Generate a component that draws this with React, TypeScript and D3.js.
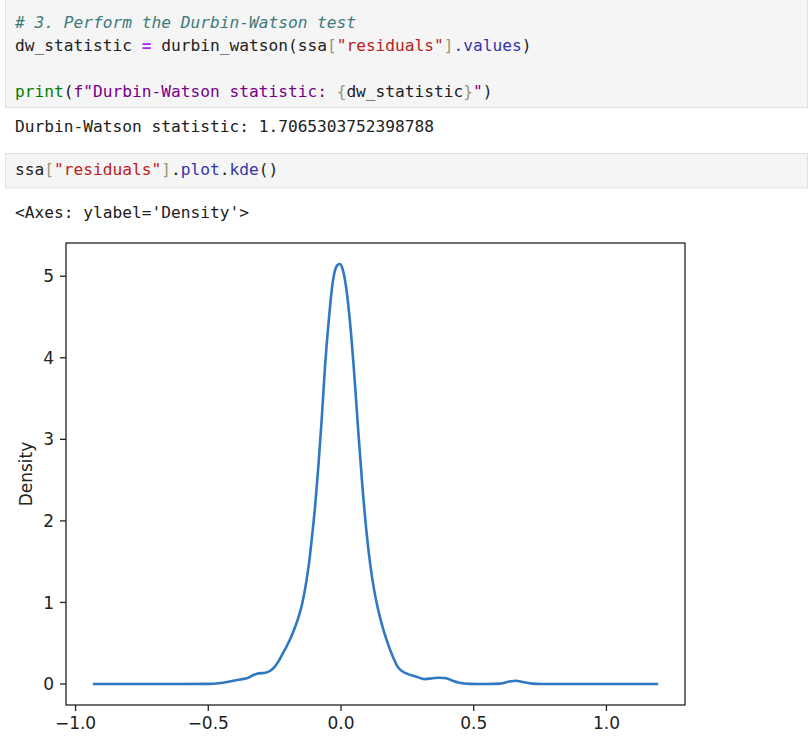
import React from "react";
import * as d3 from "d3";

// KDE curve of residuals
const residualX = [
  -0.93, -0.8, -0.6, -0.5, -0.46, -0.42, -0.38, -0.35, -0.33, -0.31, -0.285, -0.265,
  -0.25, -0.235, -0.22, -0.205, -0.19, -0.175, -0.16, -0.148, -0.135, -0.123, -0.11,
  -0.097, -0.085, -0.072, -0.06, -0.045, -0.03, -0.015, -0.005, 0.005, 0.02, 0.035,
  0.05, 0.065, 0.08, 0.095, 0.11, 0.125, 0.14, 0.155, 0.17, 0.185, 0.2, 0.212, 0.225,
  0.246, 0.284, 0.315, 0.345, 0.371, 0.397, 0.42, 0.446, 0.484, 0.55, 0.6, 0.635,
  0.659, 0.685, 0.72, 0.76, 1.0, 1.19,
];
const residualDensity = [
  0, 0, 0, 0.002, 0.01, 0.03, 0.055, 0.075, 0.11, 0.13, 0.137, 0.165,
  0.21, 0.28, 0.37, 0.46, 0.56, 0.68, 0.82, 0.96, 1.17, 1.42, 1.78,
  2.2, 2.68, 3.28, 3.9, 4.5, 4.95, 5.13, 5.15, 5.1, 4.85, 4.4,
  3.8, 3.1, 2.45, 1.9, 1.47, 1.15, 0.91, 0.72, 0.56, 0.42, 0.3, 0.22, 0.17,
  0.13, 0.09, 0.06, 0.07, 0.077, 0.07, 0.04, 0.016, 0.002, 0, 0.005, 0.03,
  0.04, 0.025, 0.005, 0, 0, 0,
];
const xTicks = [-1.0, -0.5, 0.0, 0.5, 1.0];
const yTicks = [0, 1, 2, 3, 4, 5];
const yLabel = "Density";

const MONO = "'DejaVu Sans Mono', monospace";
const SANS = "'DejaVu Sans', sans-serif";

const C = {
  text: "#212121",
  comment: "#3d7b7b",
  op: "#aa22ff",
  str: "#ba2121",
  fstr: "#770088",
  builtin: "#008000",
  prop: "#3434a8",
  bracket: "#999977",
};

type Seg = { t: string; c?: string; i?: boolean; b?: boolean };

function CodeLine({ x, y, segs }: { x: number; y: number; segs: Seg[] }) {
  return (
    <text x={x} y={y} fontFamily={MONO} fontSize={16.2} fill={C.text} style={{ whiteSpace: "pre" }}>
      {segs.map((s, i) => (
        <tspan key={i} fill={s.c || C.text} fontStyle={s.i ? "italic" : "normal"} fontWeight={s.b ? "bold" : "normal"}>
          {s.t}
        </tspan>
      ))}
    </text>
  );
}

export default function App() {
  const W = 809, H = 747;
  const left = 66, right = 685, top = 243, bottom = 705;

  const [xMin, xMax] = d3.extent(residualX) as [number, number];
  const xPad = (xMax - xMin) * 0.05;
  const yMax = d3.max(residualDensity) as number;
  const yPad = yMax * 0.05;

  const x = d3.scaleLinear().domain([xMin - xPad, xMax + xPad]).range([left, right]);
  const y = d3.scaleLinear().domain([0 - yPad, yMax + yPad]).range([bottom, top]);

  const pts = residualX.map((v, i) => [v, residualDensity[i]] as [number, number]);
  const line = d3
    .line<[number, number]>()
    .x((d) => x(d[0]))
    .y((d) => y(d[1]))
    .curve(d3.curveMonotoneX);

  const fmtX = (v: number) => d3.format(".1f")(v).replace("-", "\u2212");

  return (
    <div style={{ position: "absolute", left: 0, top: 0, background: "#fff" }}>
      <svg width={W} height={H} viewBox={`0 0 ${W} ${H}`} style={{ display: "block" }}>
        <rect x={0} y={0} width={W} height={H} fill="#fff" />
        {/* Code cell 1 */}
        <rect x={5.5} y={-2} width={802} height={109.5} fill="#f5f5f5" stroke="#e0e0e0" strokeWidth={1} />
        <CodeLine x={15} y={28} segs={[{ t: "# 3. Perform the Durbin-Watson test", c: C.comment, i: true }]} />
        <CodeLine
          x={15}
          y={51}
          segs={[
            { t: "dw_statistic " },
            { t: "=", c: C.op, b: true },
            { t: " durbin_watson(ssa" },
            { t: "[", c: C.bracket },
            { t: "\"residuals\"", c: C.str },
            { t: "]", c: C.bracket },
            { t: ".values", c: C.prop },
            { t: ")" },
          ]}
        />
        <CodeLine
          x={15}
          y={97}
          segs={[
            { t: "print", c: C.builtin },
            { t: "(" },
            { t: "f\"Durbin-Watson statistic: ", c: C.fstr },
            { t: "{", c: C.bracket },
            { t: "dw_statistic" },
            { t: "}", c: C.bracket },
            { t: "\"", c: C.fstr },
            { t: ")" },
          ]}
        />
        {/* Output 1 */}
        <CodeLine x={15} y={132} segs={[{ t: "Durbin-Watson statistic: 1.7065303752398788" }]} />
        {/* Code cell 2 */}
        <rect x={5.5} y={153.5} width={802} height={34.5} fill="#f5f5f5" stroke="#e0e0e0" strokeWidth={1} />
        <CodeLine
          x={15}
          y={175}
          segs={[
            { t: "ssa" },
            { t: "[", c: C.bracket },
            { t: "\"residuals\"", c: C.str },
            { t: "]", c: C.bracket },
            { t: "." },
            { t: "plot", c: C.prop },
            { t: "." },
            { t: "kde", c: C.prop },
            { t: "()" },
          ]}
        />
        <CodeLine x={15} y={218} segs={[{ t: "<Axes: ylabel='Density'>" }]} />

        {/* Plot */}
        <g>
          <path d={line(pts) || ""} fill="none" stroke="#2f78c2" strokeWidth={2.6} strokeLinejoin="round" strokeLinecap="square" />
          <rect x={left} y={top} width={right - left} height={bottom - top} fill="none" stroke="#222" strokeWidth={1.3} />
          {xTicks.map((t) => (
            <g key={"x" + t}>
              <line x1={x(t)} x2={x(t)} y1={bottom} y2={bottom + 6} stroke="#222" strokeWidth={1.3} />
              <text x={x(t)} y={bottom + 24} textAnchor="middle" fontFamily={SANS} fontSize={17} fill="#222">
                {fmtX(t)}
              </text>
            </g>
          ))}
          {yTicks.map((t) => (
            <g key={"y" + t}>
              <line x1={left - 6} x2={left} y1={y(t)} y2={y(t)} stroke="#222" strokeWidth={1.3} />
              <text x={left - 12} y={y(t)} dy="0.36em" textAnchor="end" fontFamily={SANS} fontSize={17} fill="#222">
                {String(t)}
              </text>
            </g>
          ))}
          <text
            transform={`translate(${32},${(top + bottom) / 2}) rotate(-90)`}
            textAnchor="middle"
            fontFamily={SANS}
            fontSize={17}
            fill="#222"
          >
            {yLabel}
          </text>
        </g>
      </svg>
    </div>
  );
}
